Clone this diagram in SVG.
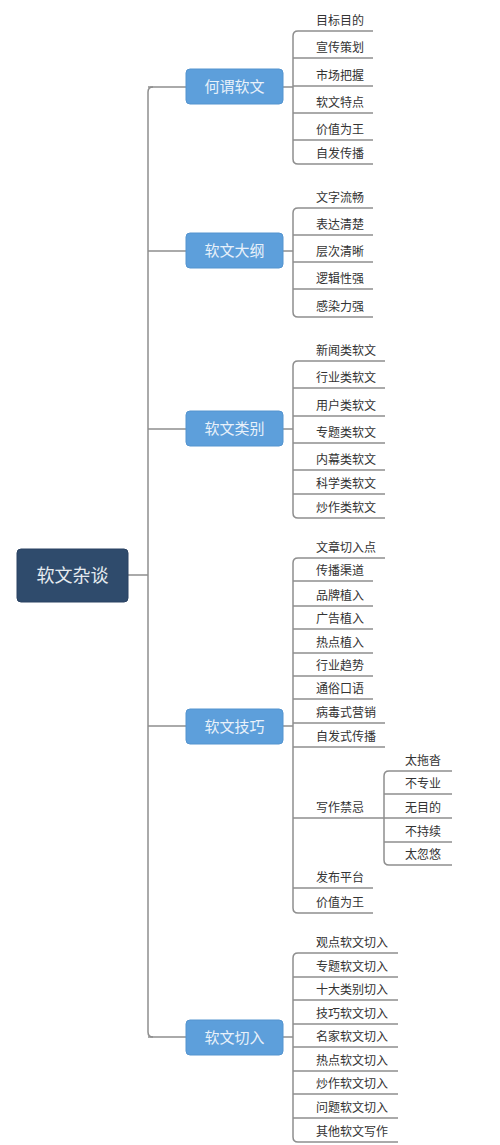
<svg xmlns="http://www.w3.org/2000/svg" width="500" height="1145" viewBox="0 0 500 1145">
<style>
.ln{fill:none;stroke:#8e8e8e;stroke-width:1.5}
.rt{fill:#2f4b6c;stroke:#2a4262;stroke-width:1}
.br{fill:#5d9fdb;stroke:#5494cf;stroke-width:1}
.rtt{font-family:"Noto Sans CJK SC",sans-serif;font-size:18px;fill:#e6ebf0;text-anchor:middle}
.brt{font-family:"Noto Sans CJK SC",sans-serif;font-size:15px;fill:#e8f1fa;text-anchor:middle}
.lf{font-family:"Noto Sans CJK SC",sans-serif;font-size:12px;fill:#333333}
</style>
<rect width="500" height="1145" fill="#ffffff"/>
<g id="connectors">
<path class="ln" d="M128 575 H148"/>
<path class="ln" d="M153 87 Q148 87 148 92 V1032 Q148 1037 153 1037"/>
<path class="ln" d="M148 251 H186 M148 429 H186 M148 726 H186"/>
<path class="ln" d="M148 87 H186 M148 1037 H186"/>
<!-- B1 -->
<path class="ln" d="M283 87 H293"/>
<path class="ln" d="M373 31 H298 Q293 31 293 36 V159 Q293 164 298 164 H373"/>
<path class="ln" d="M293 58 H373 M293 86 H373 M293 113 H373 M293 140 H373"/>
<!-- B2 -->
<path class="ln" d="M283 251 H293"/>
<path class="ln" d="M373 208 H298 Q293 208 293 213 V312 Q293 317 298 317 H373"/>
<path class="ln" d="M293 235 H373 M293 262 H373 M293 289 H373"/>
<!-- B3 -->
<path class="ln" d="M283 429 H293"/>
<path class="ln" d="M385 361 H298 Q293 361 293 366 V513 Q293 518 298 518 H385"/>
<path class="ln" d="M293 388 H385 M293 416 H385 M293 443 H385 M293 470 H385 M293 494 H385"/>
<!-- B4 -->
<path class="ln" d="M283 726 H293"/>
<path class="ln" d="M385 558 H298 Q293 558 293 563 V908 Q293 913 298 913 H373"/>
<path class="ln" d="M293 581 H373 M293 606 H373 M293 629 H373 M293 653 H373 M293 676 H373 M293 699 H373 M293 723 H385 M293 747 H385 M293 888 H373"/>
<path class="ln" d="M293 818 H384"/>
<path class="ln" d="M452 771 H389 Q384 771 384 776 V860 Q384 865 389 865 H452"/>
<path class="ln" d="M384 794 H452 M384 818 H452 M384 842 H452"/>
<!-- B5 -->
<path class="ln" d="M283 1037 H293"/>
<path class="ln" d="M398 953 H298 Q293 953 293 958 V1137 Q293 1142 298 1142 H398"/>
<path class="ln" d="M293 977 H398 M293 1000 H398 M293 1024 H398 M293 1047 H398 M293 1071 H398 M293 1094 H398 M293 1118 H398"/>
</g>
<g id="root"><rect class="rt" x="17" y="549" width="111" height="53" rx="4"/><text class="rtt" x="72.5" y="581.5">软文杂谈</text></g>
<g id="b1"><rect class="br" x="186" y="69" width="97" height="35" rx="4"/><text class="brt" x="234.5" y="92">何谓软文</text></g>
<g id="b2"><rect class="br" x="186" y="233" width="97" height="35" rx="4"/><text class="brt" x="234.5" y="256">软文大纲</text></g>
<g id="b3"><rect class="br" x="186" y="411" width="97" height="35" rx="4"/><text class="brt" x="234.5" y="434">软文类别</text></g>
<g id="b4"><rect class="br" x="186" y="709" width="97" height="35" rx="4"/><text class="brt" x="234.5" y="732">软文技巧</text></g>
<g id="b5"><rect class="br" x="186" y="1020" width="97" height="35" rx="4"/><text class="brt" x="234.5" y="1043">软文切入</text></g>
<g id="leaves1">
<text class="lf" x="316" y="25">目标目的</text>
<text class="lf" x="316" y="52">宣传策划</text>
<text class="lf" x="316" y="80">市场把握</text>
<text class="lf" x="316" y="107">软文特点</text>
<text class="lf" x="316" y="134">价值为王</text>
<text class="lf" x="316" y="158">自发传播</text>
</g>
<g id="leaves2">
<text class="lf" x="316" y="202">文字流畅</text>
<text class="lf" x="316" y="229">表达清楚</text>
<text class="lf" x="316" y="256">层次清晰</text>
<text class="lf" x="316" y="283">逻辑性强</text>
<text class="lf" x="316" y="311">感染力强</text>
</g>
<g id="leaves3">
<text class="lf" x="316" y="355">新闻类软文</text>
<text class="lf" x="316" y="382">行业类软文</text>
<text class="lf" x="316" y="410">用户类软文</text>
<text class="lf" x="316" y="437">专题类软文</text>
<text class="lf" x="316" y="464">内幕类软文</text>
<text class="lf" x="316" y="488">科学类软文</text>
<text class="lf" x="316" y="512">炒作类软文</text>
</g>
<g id="leaves4">
<text class="lf" x="316" y="552">文章切入点</text>
<text class="lf" x="316" y="575">传播渠道</text>
<text class="lf" x="316" y="600">品牌植入</text>
<text class="lf" x="316" y="623">广告植入</text>
<text class="lf" x="316" y="647">热点植入</text>
<text class="lf" x="316" y="670">行业趋势</text>
<text class="lf" x="316" y="693">通俗口语</text>
<text class="lf" x="316" y="717">病毒式营销</text>
<text class="lf" x="316" y="741">自发式传播</text>
<text class="lf" x="316" y="812">写作禁忌</text>
<text class="lf" x="316" y="882">发布平台</text>
<text class="lf" x="316" y="907">价值为王</text>
</g>
<g id="leaves4sub">
<text class="lf" x="405" y="765">太拖沓</text>
<text class="lf" x="405" y="788">不专业</text>
<text class="lf" x="405" y="812">无目的</text>
<text class="lf" x="405" y="836">不持续</text>
<text class="lf" x="405" y="859">太忽悠</text>
</g>
<g id="leaves5">
<text class="lf" x="316" y="947">观点软文切入</text>
<text class="lf" x="316" y="971">专题软文切入</text>
<text class="lf" x="316" y="994">十大类别切入</text>
<text class="lf" x="316" y="1018">技巧软文切入</text>
<text class="lf" x="316" y="1041">名家软文切入</text>
<text class="lf" x="316" y="1065">热点软文切入</text>
<text class="lf" x="316" y="1088">炒作软文切入</text>
<text class="lf" x="316" y="1112">问题软文切入</text>
<text class="lf" x="316" y="1136">其他软文写作</text>
</g>
</svg>
